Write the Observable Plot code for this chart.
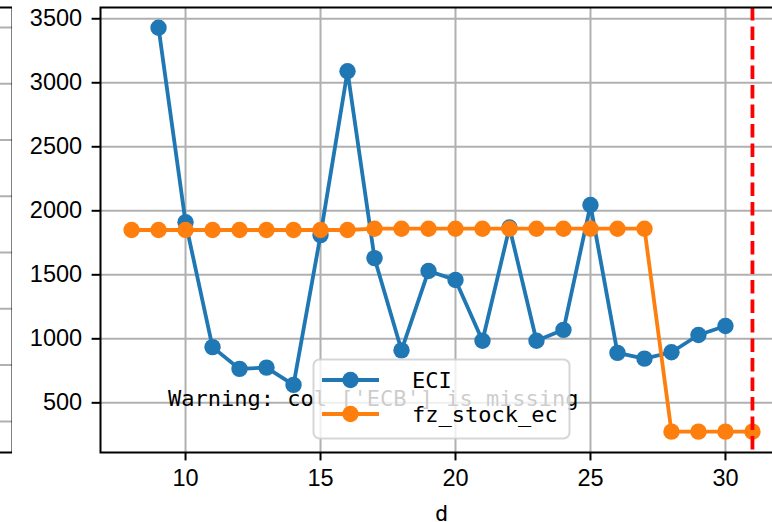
<!DOCTYPE html>
<html>
<head>
<meta charset="utf-8">
<script src="https://cdn.jsdelivr.net/npm/d3@7"></script>
<script src="https://cdn.jsdelivr.net/npm/@observablehq/plot@0.6"></script>
<style>
  html, body { margin: 0; padding: 0; background: #fff; }
  #wrap { position: relative; width: 772px; height: 522px; overflow: hidden; background: #fff; }
  #wrap > * { position: absolute; top: 0; }
  #main { left: 0; width: 800px; }
  #side { left: -28px; width: 40px; }
  #overlay { left: 0; }
  #wrap svg { max-width: none !important; }
  svg text { font-family: "Liberation Sans", Arial, sans-serif; }
</style>
</head>
<body>
<div id="wrap">
  <div id="side"></div>
  <div id="main"></div>
  <svg id="overlay" width="772" height="522"></svg>
</div>
<script>
// ---- data ----
const days = [8, 9, 10, 11, 12, 13, 14, 15, 16, 17, 18, 19, 20, 21, 22, 23, 24, 25, 26, 27, 28, 29, 30, 31];
const eciValues = [null, 3430, 1910, 935, 765, 775, 640, 1810, 3090, 1630, 910, 1530, 1460, 985, 1870, 985, 1070, 2045, 890, 845, 895, 1030, 1100, null];
const fzStockEcValues = [1850, 1850, 1850, 1850, 1850, 1850, 1850, 1850, 1850, 1860, 1860, 1860, 1860, 1860, 1860, 1860, 1860, 1860, 1860, 1860, 275, 275, 275, 275];
const seriesNames = ["ECI", "fz_stock_ec"];
const seriesColors = ["#1f77b4", "#ff7f0e"];
const xTicks = [10, 15, 20, 25, 30];
const yTicks = [500, 1000, 1500, 2000, 2500, 3000, 3500];
const markerDay = [31];
const sideGrid = [0, 1, 2, 3, 4, 5, 6, 7];
const xLabel = "d";
const warningText = "Warning: col ['ECB'] is missing";

const eci = days.map((d, i) => ({d, v: eciValues[i]})).filter(o => o.v != null);
const fz = days.map((d, i) => ({d, v: fzStockEcValues[i]})).filter(o => o.v != null);

const tickFont = 23.5;
const dotR = 8.2;
const lineW = 3.8;

const main = Plot.plot({
  width: 800,
  height: 522,
  marginLeft: 100,
  marginRight: 17,
  marginTop: 7,
  marginBottom: 70,
  style: {background: "transparent", overflow: "visible", maxWidth: "none"},
  x: {domain: [6.85, 32.15]},
  y: {domain: [112, 3588]},
  marks: [
    Plot.gridX(xTicks, {stroke: "#b0b0b0", strokeOpacity: 1, strokeWidth: 2}),
    Plot.gridY(yTicks, {stroke: "#b0b0b0", strokeOpacity: 1, strokeWidth: 2}),
    Plot.axisX(xTicks, {tickSize: 8.4, tickPadding: 8, fontSize: tickFont, stroke: "black", strokeWidth: 2, fill: "black", label: null, tickFormat: d => String(d)}),
    Plot.axisY(yTicks, {tickSize: 8.4, tickPadding: 10, fontSize: tickFont, stroke: "black", strokeWidth: 2, fill: "black", label: null, tickFormat: d => String(d)}),
    Plot.line(eci, {x: "d", y: "v", stroke: seriesColors[0], strokeWidth: lineW}),
    Plot.dot(eci, {x: "d", y: "v", r: dotR, fill: seriesColors[0], stroke: "none"}),
    Plot.line(fz, {x: "d", y: "v", stroke: seriesColors[1], strokeWidth: lineW}),
    Plot.dot(fz, {x: "d", y: "v", r: dotR, fill: seriesColors[1], stroke: "none"}),
    Plot.ruleX(markerDay, {stroke: "red", strokeWidth: 3.8, strokeDasharray: "13.5,6"}),
    Plot.frame({stroke: "black", strokeWidth: 2})
  ]
});
document.getElementById("main").appendChild(main);

const side = Plot.plot({
  width: 40,
  height: 522,
  marginLeft: 0,
  marginRight: 0,
  marginTop: 7,
  marginBottom: 70,
  style: {background: "transparent", maxWidth: "none"},
  x: {domain: [0, 1], axis: null},
  y: {domain: [-0.553, 7.355], axis: null},
  marks: [
    Plot.ruleY(sideGrid, {stroke: "#b0b0b0", strokeWidth: 2}),
    Plot.frame({stroke: "black", strokeWidth: 2})
  ]
});
document.getElementById("side").appendChild(side);

// overlay: warning text, legend, axis label
const ov = d3.select("#overlay");
ov.append("text")
  .attr("x", 441.5).attr("y", 521)
  .attr("text-anchor", "middle")
  .style("font-family", "'DejaVu Sans Mono', monospace")
  .style("font-size", "22px")
  .text(xLabel);
ov.append("text")
  .attr("x", 168).attr("y", 406)
  .style("font-family", "'DejaVu Sans Mono', monospace")
  .style("font-size", "22px")
  .attr("xml:space", "preserve")
  .text(warningText);
const lg = ov.append("g");
lg.append("rect")
  .attr("x", 313.5).attr("y", 359.5).attr("width", 256).attr("height", 79)
  .attr("rx", 6)
  .attr("fill", "white").attr("fill-opacity", 0.8)
  .attr("stroke", "#cccccc").attr("stroke-opacity", 0.8).attr("stroke-width", 2);
const itemY = [380, 414];
seriesNames.forEach((name, i) => {
  const y = itemY[i];
  lg.append("line").attr("x1", 322).attr("x2", 379).attr("y1", y).attr("y2", y)
    .attr("stroke", seriesColors[i]).attr("stroke-width", lineW);
  lg.append("circle").attr("cx", 350.5).attr("cy", y).attr("r", dotR).attr("fill", seriesColors[i]);
  lg.append("text").attr("x", 412).attr("y", y + 8)
    .style("font-family", "'DejaVu Sans Mono', monospace")
    .style("font-size", "22px")
    .text(name);
});
</script>
</body>
</html>
